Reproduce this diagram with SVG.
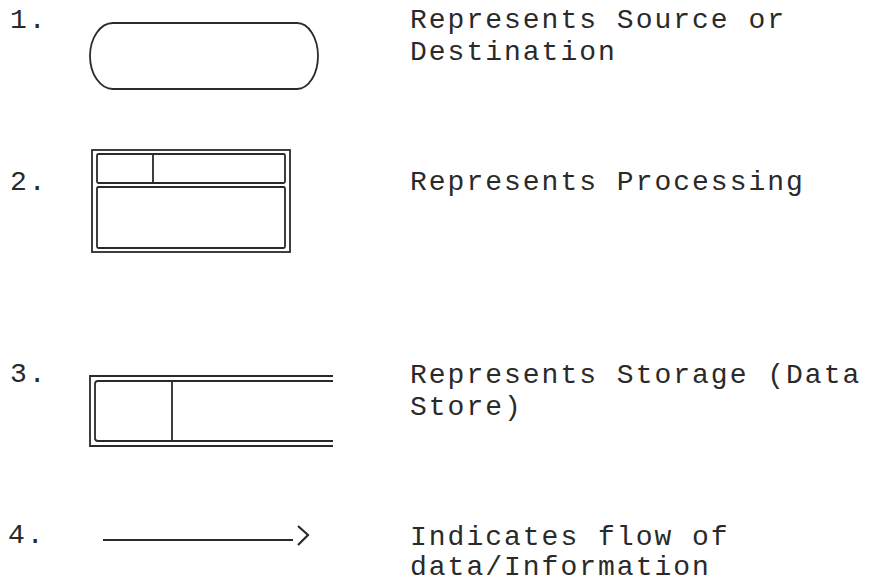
<svg xmlns="http://www.w3.org/2000/svg" width="871" height="582" viewBox="0 0 871 582">
<style>
.t{font-family:"Liberation Mono","Courier New",monospace;font-size:28px;letter-spacing:2px;fill:#2a2a2a}
.s{fill:none;stroke:#2a2a2a;stroke-width:1.8}
.th{fill:none;stroke:#2a2a2a;stroke-width:2.2}
</style>
<rect width="871" height="582" fill="#ffffff"/>
<g id="num">
<text class="t" x="10" y="28">1.</text>
<text class="t" x="10" y="190">2.</text>
<text class="t" x="10" y="382">3.</text>
<text class="t" x="8" y="543">4.</text>
</g>
<g id="source">
<path class="s" d="M113,23 L297,23 A21,33 0 0 1 297,89 L113,89 A23,33 0 0 1 113,23 Z"/>
</g>
<g id="process">
<rect class="s" x="92" y="150" width="198" height="102"/>
<rect class="s" x="97" y="154" width="188" height="29" rx="1.5"/>
<rect class="s" x="97" y="187" width="188" height="61" rx="1.5"/>
<line class="s" x1="153" y1="154" x2="153" y2="183"/>
</g>
<g id="storage">
<path class="s" d="M333,376 L90,376 L90,446 L333,446"/>
<path class="s" d="M333,381 L98,381 Q95,381 95,384 L95,438 Q95,441 98,441 L333,441"/>
<line class="s" x1="172" y1="381" x2="172" y2="441"/>
</g>
<g id="connectors">
<line class="s" x1="103" y1="540" x2="293" y2="540" stroke-width="1.5"/>
<path class="th" d="M298,526 L308,535 L298,545"/>
</g>
<g id="labels">
<text class="t" x="410" y="28">Represents Source or</text>
<text class="t" x="410" y="60">Destination</text>
<text class="t" x="410" y="190">Represents Processing</text>
<text class="t" x="410" y="383">Represents Storage (Data</text>
<text class="t" x="410" y="415">Store)</text>
<text class="t" x="410" y="545">Indicates flow of</text>
<text class="t" x="410" y="575">data/Information</text>
</g>
</svg>
